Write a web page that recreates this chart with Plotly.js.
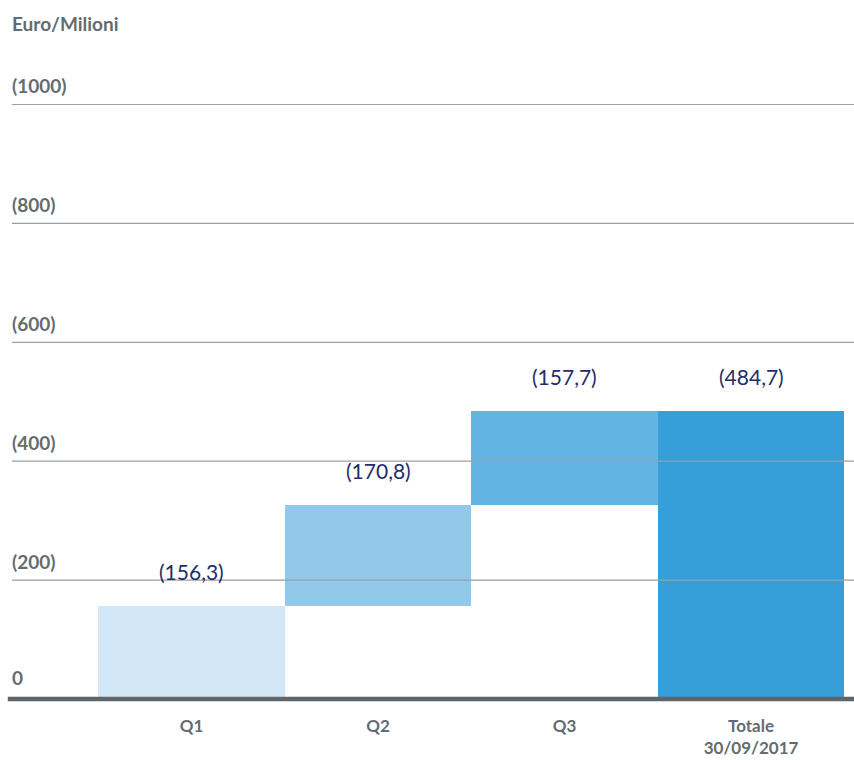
<!DOCTYPE html>
<html><head><meta charset="utf-8">
<script src="https://cdn.plot.ly/plotly-3.0.1.min.js"></script>
<style>html,body{margin:0;padding:0;background:#fff}#c{width:854px;height:760px}</style>
</head><body><div id="c"></div>
<script>
const categories = ["Q1", "Q2", "Q3", "Totale<br>30/09/2017"];
const values = [156.3, 170.8, 157.7, 484.7];
const isTotal = [false, false, false, true];
const valueLabels = ["(156,3)", "(170,8)", "(157,7)", "(484,7)"];
const barColors = ["#d3e8f6", "#92c8ea", "#62b4e2", "#369fda"];
const yTicks = [0, 200, 400, 600, 800, 1000];
const yTickLabels = ["0", "(200)", "(400)", "(600)", "(800)", "(1000)"];

const xs = categories.map((_, i) => i);
const bases = [];
let run = 0;
values.forEach((v, i) => {
  if (isTotal[i]) { bases.push(0); }
  else { bases.push(run); run += v; }
});
const tops = values.map((v, i) => bases[i] + v);

const gray = "#646c71";
const fontFam = "Lato, 'Open Sans', sans-serif";

const trace = {
  type: "bar", x: xs, y: values, base: bases, width: 1,
  marker: {color: barColors, line: {width: 0}},
  hoverinfo: "skip"
};

const shapes = yTicks.map(t => ({
  type: "line", xref: "paper", x0: t === 0 ? -0.005 : 0, x1: 1, yref: "y", y0: t, y1: t,
  layer: "above",
  line: {color: t === 0 ? "#5f6569" : "#9a9fa3", width: t === 0 ? 4.5 : 1.2}
}));

const annotations = [];
yTicks.forEach((t, i) => {
  annotations.push({
    xref: "paper", x: 0, xanchor: "left", xshift: -2, yref: "y", y: t, yanchor: "bottom",
    yshift: t === 0 ? 8 : 5, text: yTickLabels[i], showarrow: false,
    font: {family: fontFam, size: 19, color: gray, weight: 700}
  });
});
xs.forEach((x, i) => {
  annotations.push({
    x: x, y: tops[i], xref: "x", yref: "y", yanchor: "bottom", yshift: 20,
    text: valueLabels[i], showarrow: false,
    font: {family: fontFam, size: 21, color: "#1e2d6b"}
  });
});
annotations.push({
  xref: "paper", yref: "paper", x: 0, y: 1, xanchor: "left", yanchor: "bottom",
  xshift: -2, yshift: 33, text: "Euro/Milioni", showarrow: false,
  font: {family: fontFam, size: 19, color: gray, weight: 700}
});

const layout = {
  width: 854, height: 760,
  margin: {l: 12, r: 0, t: 70, b: 58},
  paper_bgcolor: "#fff", plot_bgcolor: "#fff",
  showlegend: false, bargap: 0,
  xaxis: {
    type: "linear", range: [-0.9625, 3.552],
    tickvals: xs, ticktext: categories,
    showgrid: false, zeroline: false, showline: false, ticks: "",
    ticklabelstandoff: 12,
    tickfont: {family: fontFam, size: 17, color: gray, weight: 700},
    fixedrange: true
  },
  yaxis: {
    range: [-5, 1058], showgrid: false, zeroline: false, showticklabels: false,
    ticks: "", showline: false, fixedrange: true
  },
  shapes: shapes, annotations: annotations
};

Plotly.newPlot("c", [trace], layout, {displayModeBar: false, staticPlot: true});
</script></body></html>
